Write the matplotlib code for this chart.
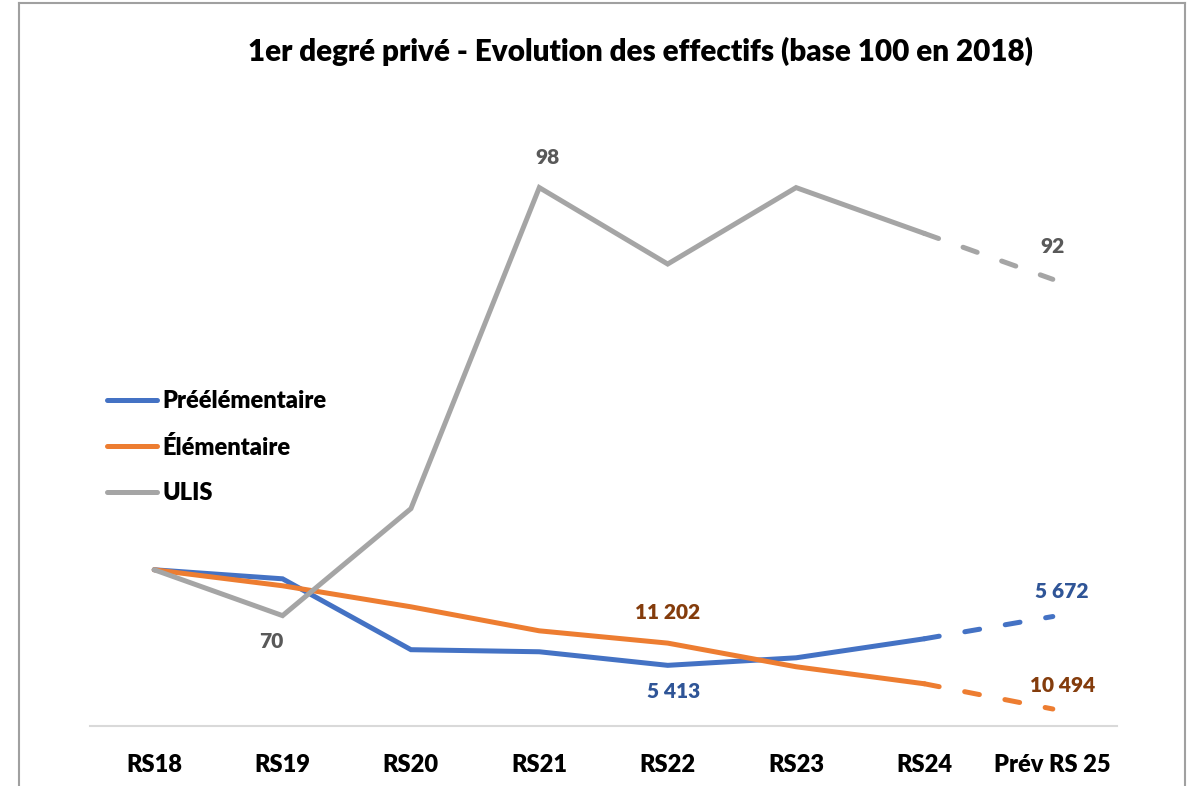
import matplotlib.pyplot as plt
from matplotlib.lines import Line2D
import numpy as np

# categories et effectifs (valeurs brutes), l'indice base 100 est calcule ensuite
categories = ['RS18', 'RS19', 'RS20', 'RS21', 'RS22', 'RS23', 'RS24', 'Prév RS 25']
preelementaire = [5920, 5872, 5496, 5485, 5413, 5453, 5554, 5672]
elementaire = [11990, 11818, 11592, 11334, 11202, 10948, 10765, 10494]
ulis = [73, 70, 77, 98, 93, 98, 95, 92]

series = [('Préélémentaire', preelementaire, '#4472C4', '#2F5597'),
          ('Élémentaire', elementaire, '#ED7D31', '#843C0C'),
          ('ULIS', ulis, '#A5A5A5', '#595959')]

# etiquettes affichees : (serie, indice du point, decalage en pixels)
etiquettes = [('ULIS', 1, (-11, -26)), ('ULIS', 3, (8, 30)), ('ULIS', 7, (0, 33)),
              ('Préélémentaire', 4, (6, -26)), ('Préélémentaire', 7, (9, 25)),
              ('Élémentaire', 4, (0, 31)), ('Élémentaire', 7, (10, 24))]

plt.rcParams['font.family'] = ['Lato', 'DejaVu Sans']

fig = plt.figure(figsize=(11.95, 7.86), dpi=100)
ax = fig.add_axes([90 / 1195, 60 / 786, 1027 / 1195, 616 / 786])

x = np.arange(len(categories))
lignes = {}
for nom, val, col, col_lab in series:
    val = np.array(val, dtype=float)
    idx = val / val[0] * 100
    lignes[nom] = (idx, val, col_lab)
    # partie realisee en trait plein, prevision en pointilles
    ax.plot(x[:-1], idx[:-1], color=col, lw=3.6, solid_capstyle='round',
            solid_joinstyle='miter', label=nom)
    ax.plot(x[-2:], idx[-2:], color=col, lw=3.6, dashes=(3, 5.2),
            dash_capstyle='round')

for nom, i, (dx, dy) in etiquettes:
    idx, val, col_lab = lignes[nom]
    txt = '{:,.0f}'.format(val[i]).replace(',', ' ')
    ax.annotate(txt, (x[i], idx[i]), xytext=(dx, dy), textcoords='offset pixels',
                ha='center', va='center', fontsize=15, fontweight='heavy', color=col_lab)

ax.set_xlim(-0.5, len(categories) - 0.5)
ax.set_ylim(86.0, 141.2)
ax.set_xticks(x)
ax.set_xticklabels(categories, fontsize=17, fontweight='heavy')
ax.tick_params(axis='x', length=0, pad=20)
ax.set_yticks([])
for s in ['top', 'right', 'left']:
    ax.spines[s].set_visible(False)
ax.spines['bottom'].set_color('#D9D9D9')
ax.spines['bottom'].set_linewidth(1.5)

fig.text(640 / 1195, 1 - 51 / 786, '1er degré privé - Evolution des effectifs (base 100 en 2018)',
         ha='center', va='center', fontsize=21.3, fontweight='heavy')

leg = fig.legend(loc='upper left', bbox_to_anchor=(86 / 1195, 1 - 369 / 786), frameon=False,
                 prop={'size': 17, 'weight': 'heavy'}, handlelength=2.1, handletextpad=0.25,
                 labelspacing=0.99)

# cadre du graphique
bord = '#A0A0A0'
fig.add_artist(Line2D([19 / 1195, 19 / 1195], [0, 1 - 3 / 786], color=bord, lw=1.5))
fig.add_artist(Line2D([19 / 1195, 1185 / 1195], [1 - 3 / 786, 1 - 3 / 786], color=bord, lw=1.5))
fig.add_artist(Line2D([1185 / 1195, 1185 / 1195], [0, 1 - 3 / 786], color=bord, lw=1.5))

fig.savefig('out.png', dpi=100)
